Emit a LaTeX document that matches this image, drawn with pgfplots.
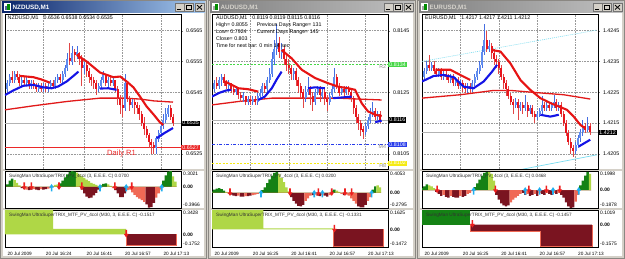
\documentclass[border=0pt]{standalone}
\usepackage{pgfplots}
\pgfplotsset{compat=1.18}
\usepackage{pgfplotstable}
\usepackage{fontspec}
\setmainfont{Liberation Sans}

\definecolor{winbg}{RGB}{212,208,200}
\definecolor{actL}{RGB}{10,36,106}
\definecolor{actR}{RGB}{166,202,240}
\definecolor{inaL}{RGB}{128,128,128}
\definecolor{inaR}{RGB}{192,192,192}
\definecolor{inaT}{RGB}{214,211,204}
\definecolor{bullc}{RGB}{95,140,240}
\definecolor{bullw}{RGB}{70,110,225}
\definecolor{bearc}{RGB}{232,20,28}
\definecolor{bearw}{RGB}{225,70,70}
\definecolor{mablue}{RGB}{20,20,230}
\definecolor{mared}{RGB}{230,20,20}
\definecolor{slowc}{RGB}{225,25,25}
\definecolor{dgc}{RGB}{20,130,20}
\definecolor{lgc}{RGB}{175,215,70}
\definecolor{drc}{RGB}{122,20,32}
\definecolor{lrc}{RGB}{240,105,85}
\definecolor{dnar}{RGB}{238,30,30}
\definecolor{upar}{RGB}{30,175,240}
\definecolor{r1c}{RGB}{235,40,40}
\definecolor{pivg}{RGB}{70,215,70}
\definecolor{pivb}{RGB}{40,60,235}
\definecolor{pivy}{RGB}{245,235,20}
\definecolor{cyl}{RGB}{120,220,240}
\definecolor{txtg}{RGB}{50,50,50}

\newcommand{\lbl}{\fontsize{5.3}{6.9}\selectfont}
\newcommand{\slbl}{\fontsize{4.9}{5.5}\selectfont}
\newcommand{\tlbl}{\fontsize{4.7}{5.5}\selectfont}
\newcommand{\ttl}{\fontsize{6.3}{7}\selectfont\bfseries}

\pgfdeclareplotmark{dnarr}{%
  \pgfpathmoveto{\pgfqpoint{-0.8pt}{4.5pt}}%
  \pgfpathlineto{\pgfqpoint{0.8pt}{4.5pt}}%
  \pgfpathlineto{\pgfqpoint{0.8pt}{0.6pt}}%
  \pgfpathlineto{\pgfqpoint{2.4pt}{0.6pt}}%
  \pgfpathlineto{\pgfqpoint{0pt}{-3pt}}%
  \pgfpathlineto{\pgfqpoint{-2.4pt}{0.6pt}}%
  \pgfpathlineto{\pgfqpoint{-0.8pt}{0.6pt}}%
  \pgfpathclose\pgfusepathqfill}
\pgfdeclareplotmark{uparr}{%
  \pgfpathmoveto{\pgfqpoint{-0.8pt}{-4.5pt}}%
  \pgfpathlineto{\pgfqpoint{0.8pt}{-4.5pt}}%
  \pgfpathlineto{\pgfqpoint{0.8pt}{-0.6pt}}%
  \pgfpathlineto{\pgfqpoint{2.4pt}{-0.6pt}}%
  \pgfpathlineto{\pgfqpoint{0pt}{3pt}}%
  \pgfpathlineto{\pgfqpoint{-2.4pt}{-0.6pt}}%
  \pgfpathlineto{\pgfqpoint{-0.8pt}{-0.6pt}}%
  \pgfpathclose\pgfusepathqfill}

\pgfplotsset{
  mt/.style={scale only axis, anchor=south west, width=176pt,
    axis line style={line width=0.5pt, black}, scaled ticks=false,
    clip mode=individual, tick label style={font=\lbl, text=black}},
  mtmain/.style={mt, ytick pos=right, yticklabel pos=right, tick align=outside,
    major tick length=2pt, xtick style={draw=none}, xticklabels={,,,,},
    xmajorgrids, ymajorgrids,
    major grid style={black!40, dash pattern=on 0.6pt off 1pt, line width=0.35pt},
    yticklabel style={anchor=west, xshift=-0.5pt}},
  mtsub/.style={mt, ytick=\empty, xtick=\empty},
  mtsub2/.style={mt, ytick=\empty, xtick pos=bottom, tick align=outside,
    major tick length=1.5pt, xticklabel style={font=\tlbl, anchor=north west, xshift=-1pt}},
  cndl/.style 2 args={forget plot, draw=none, mark=none,
    error bars/y dir=both, error bars/y explicit, error bars/error mark=none,
    error bars/error bar style={draw=#1, line width=#2}},
}
\tikzset{pbox/.style={anchor=west, inner xsep=1pt, inner ysep=0.7pt, font=\lbl, xshift=0.3pt}}

\newcommand{\candles}[1]{%
\addplot[cndl={bullw}{0.7pt}, x filter/.expression={\thisrow{c}>\thisrow{o} ? x : nan}] table[x=t, y expr={(\thisrow{h}+\thisrow{l})/2}, y error expr={(\thisrow{h}-\thisrow{l})/2}] {#1};
\addplot[cndl={bearw}{0.7pt}, x filter/.expression={\thisrow{c}<\thisrow{o} ? x : nan}] table[x=t, y expr={(\thisrow{h}+\thisrow{l})/2}, y error expr={(\thisrow{h}-\thisrow{l})/2}] {#1};
\addplot[cndl={bullc}{2.1pt}, x filter/.expression={\thisrow{c}>\thisrow{o} ? x : nan}] table[x=t, y expr={(\thisrow{o}+\thisrow{c})/2}, y error expr={abs(\thisrow{c}-\thisrow{o})/2}] {#1};
\addplot[cndl={bearc}{2.1pt}, x filter/.expression={\thisrow{c}<\thisrow{o} ? x : nan}] table[x=t, y expr={(\thisrow{o}+\thisrow{c})/2}, y error expr={abs(\thisrow{c}-\thisrow{o})/2}] {#1};
}
\newcommand{\histo}[1]{%
\addplot[ybar, bar width=1, bar shift=0pt, fill=dgc, draw=none] table[x=t,y=dg]{#1};
\addplot[ybar, bar width=1, bar shift=0pt, fill=lgc, draw=none] table[x=t,y=lg]{#1};
\addplot[ybar, bar width=1, bar shift=0pt, fill=drc, draw=none] table[x=t,y=dr]{#1};
\addplot[ybar, bar width=1, bar shift=0pt, fill=lrc, draw=none] table[x=t,y=lr]{#1};
}
\newcommand{\subscale}[3]{%
\node[anchor=north west, font=\slbl, inner sep=0.5pt, xshift=1.5pt, yshift=-0.5pt] at (rel axis cs:1,1) {#2};
\node[anchor=west, font=\slbl\bfseries, inner sep=0.5pt, xshift=1.5pt] at (axis cs:#1,0) {0.00};
\node[anchor=south west, font=\slbl, inner sep=0.5pt, xshift=1.5pt, yshift=0.5pt] at (rel axis cs:1,0) {#3};
}
\newcommand{\subtitle}[1]{%
\node[anchor=north west, font=\tlbl, text=txtg, inner sep=0pt, xshift=4pt, yshift=-3pt] at (rel axis cs:0,1) {#1};
}
\newcommand{\mtbtns}[1]{%
 \foreach \bx in {#1-30,#1-20.5,#1-10}{\draw[fill=winbg, draw=black!55, line width=0.4pt] (\bx,247.5) rectangle ++(9,8);}
 \draw[line width=0.9pt] (#1-28,249.8) -- ++(4,0);
 \draw[line width=0.4pt] (#1-18.5,249.3) rectangle ++(5,4.6);
 \draw[line width=0.9pt] (#1-18.5,253.6) -- ++(5,0);
 \draw[line width=0.8pt] (#1-8,249.5) -- ++(5,4.4) (#1-8,253.9) -- ++(5,-4.4);
}
\newcommand{\mtwin}[6]{%
 \fill[winbg!65!black] (#1,0) rectangle (#1+#2,259);
 \fill[winbg] (#1+1,1) rectangle (#1+#2-1,258);
 \shade[left color=#3, right color=#4] (#1+2,246) rectangle (#1+#2-2,257);
 \fill[white] (#1+3.5,247.5) rectangle (#1+10.5,255.5);
 \fill[#3!70!white] (#1+4.5,248.5) rectangle (#1+7,253);
 \fill[green!55!black] (#1+7,248.5) rectangle (#1+9.5,254.5);
 \node[anchor=west, inner sep=0pt, text=#5, font=\ttl] at (#1+12.5,251.5) {#6};
 \mtbtns{#1+#2-2}
 \fill[white] (#1+3,3) rectangle (#1+#2-3,245.5);
 \fill[winbg] (#1+3,88) rectangle (#1+#2-3,90);
 \fill[winbg] (#1+3,49) rectangle (#1+#2-3,51);
}

% ---------------- data ----------------
\pgfplotstableread{
t o c h l
9 0.6546 0.6548 0.6549 0.6545
10 0.6548 0.6550 0.6551 0.6547
11 0.6550 0.6549 0.6552 0.6548
12 0.6549 0.6551 0.6552 0.6548
13 0.6551 0.6550 0.6552 0.6549
14 0.6550 0.6548 0.6551 0.6547
15 0.6548 0.6549 0.6550 0.6547
16 0.6549 0.6548 0.6550 0.6547
17 0.6548 0.6549 0.6550 0.6547
18 0.6549 0.6547 0.6549 0.6546
19 0.6547 0.6548 0.6549 0.6546
20 0.6548 0.6547 0.6549 0.6546
21 0.6547 0.6546 0.6548 0.6545
22 0.6546 0.6547 0.6548 0.6545
23 0.6547 0.6546 0.6548 0.6545
24 0.6546 0.6547 0.6548 0.6545
25 0.6547 0.6546 0.6548 0.6545
26 0.6546 0.6547 0.6548 0.6545
27 0.6547 0.6548 0.6549 0.6546
28 0.6548 0.6547 0.6549 0.6546
29 0.6547 0.6549 0.6550 0.6546
30 0.6549 0.6550 0.6551 0.6548
31 0.6550 0.6549 0.6551 0.6548
32 0.6549 0.6551 0.6552 0.6548
33 0.6551 0.6553 0.6554 0.6550
34 0.6553 0.6556 0.6558 0.6552
35 0.6556 0.6555 0.6561 0.6554
36 0.6555 0.6558 0.6560 0.6554
37 0.6558 0.6557 0.6559 0.6555
38 0.6557 0.6558 0.6560 0.6556
39 0.6558 0.6556 0.6558 0.6554
40 0.6556 0.6553 0.6557 0.6547
41 0.6553 0.6554 0.6555 0.6551
42 0.6554 0.6552 0.6555 0.6550
43 0.6552 0.6550 0.6553 0.6548
44 0.6550 0.6549 0.6551 0.6547
45 0.6549 0.6548 0.6550 0.6546
46 0.6548 0.6546 0.6549 0.6544
47 0.6546 0.6547 0.6548 0.6545
48 0.6547 0.6549 0.6550 0.6546
49 0.6549 0.6551 0.6552 0.6548
50 0.6551 0.6548 0.6551 0.6547
51 0.6548 0.6549 0.6550 0.6546
52 0.6549 0.6548 0.6550 0.6547
53 0.6548 0.6549 0.6550 0.6547
54 0.6549 0.6546 0.6549 0.6545
55 0.6546 0.6543 0.6547 0.6541
56 0.6543 0.6541 0.6544 0.6538
57 0.6541 0.6540 0.6543 0.6537
58 0.6540 0.6548 0.6551 0.6539
59 0.6548 0.6543 0.6548 0.6542
60 0.6543 0.6541 0.6544 0.6539
61 0.6541 0.6542 0.6543 0.6540
62 0.6542 0.6541 0.6543 0.6538
63 0.6541 0.6540 0.6542 0.6538
64 0.6540 0.6538 0.6541 0.6536
65 0.6538 0.6535 0.6539 0.6534
66 0.6535 0.6533 0.6537 0.6531
67 0.6533 0.6531 0.6534 0.6530
68 0.6531 0.6529 0.6532 0.6527
69 0.6529 0.6528 0.6530 0.6525
70 0.6528 0.6527 0.6529 0.6525
71 0.6527 0.6530 0.6531 0.6525
72 0.6530 0.6532 0.6533 0.6529
73 0.6532 0.6534 0.6535 0.6531
74 0.6534 0.6536 0.6538 0.6533
75 0.6536 0.6538 0.6540 0.6535
76 0.6538 0.6540 0.6541 0.6537
77 0.6540 0.6537 0.6541 0.6536
78 0.6537 0.6535 0.6538 0.6534
}\nzd

\pgfplotstableread{
t o c h l
10 0.8126 0.8128 0.8129 0.8125
11 0.8128 0.8127 0.8130 0.8126
12 0.8127 0.8129 0.8130 0.8126
13 0.8129 0.8130 0.8131 0.8127
14 0.8130 0.8128 0.8131 0.8127
15 0.8128 0.8127 0.8129 0.8126
16 0.8127 0.8128 0.8129 0.8125
17 0.8128 0.8126 0.8128 0.8125
18 0.8126 0.8125 0.8127 0.8124
19 0.8125 0.8126 0.8127 0.8124
20 0.8126 0.8124 0.8126 0.8123
21 0.8124 0.8123 0.8125 0.8122
22 0.8123 0.8124 0.8125 0.8122
23 0.8124 0.8122 0.8124 0.8121
24 0.8122 0.8123 0.8124 0.8121
25 0.8123 0.8122 0.8124 0.8121
26 0.8122 0.8123 0.8124 0.8121
27 0.8123 0.8122 0.8124 0.8121
28 0.8122 0.8124 0.8125 0.8121
29 0.8124 0.8125 0.8126 0.8123
30 0.8125 0.8127 0.8128 0.8124
31 0.8127 0.8126 0.8128 0.8125
32 0.8126 0.8129 0.8130 0.8125
33 0.8129 0.8131 0.8133 0.8128
34 0.8131 0.8136 0.8138 0.8130
35 0.8136 0.8139 0.8142 0.8134
36 0.8139 0.8141 0.8147 0.8137
37 0.8141 0.8138 0.8143 0.8136
38 0.8138 0.8139 0.8141 0.8136
39 0.8139 0.8136 0.8140 0.8134
40 0.8136 0.8134 0.8137 0.8132
41 0.8134 0.8133 0.8136 0.8131
42 0.8133 0.8131 0.8134 0.8129
43 0.8131 0.8132 0.8133 0.8129
44 0.8132 0.8129 0.8133 0.8127
45 0.8129 0.8127 0.8130 0.8125
46 0.8127 0.8125 0.8128 0.8123
47 0.8125 0.8123 0.8126 0.8120
48 0.8123 0.8125 0.8127 0.8122
49 0.8125 0.8126 0.8130 0.8124
50 0.8126 0.8124 0.8127 0.8121
51 0.8124 0.8122 0.8125 0.8119
52 0.8122 0.8125 0.8126 0.8121
53 0.8125 0.8126 0.8127 0.8124
54 0.8126 0.8124 0.8127 0.8122
55 0.8124 0.8125 0.8126 0.8123
56 0.8125 0.8123 0.8126 0.8121
57 0.8123 0.8122 0.8124 0.8119
58 0.8122 0.8124 0.8125 0.8121
59 0.8124 0.8126 0.8127 0.8123
60 0.8126 0.8130 0.8133 0.8125
61 0.8130 0.8127 0.8131 0.8126
62 0.8127 0.8125 0.8128 0.8124
63 0.8125 0.8126 0.8127 0.8124
64 0.8126 0.8125 0.8127 0.8123
65 0.8125 0.8126 0.8127 0.8124
66 0.8126 0.8125 0.8127 0.8124
67 0.8125 0.8123 0.8126 0.8122
68 0.8123 0.8120 0.8124 0.8118
69 0.8120 0.8117 0.8121 0.8115
70 0.8117 0.8115 0.8118 0.8113
71 0.8115 0.8113 0.8116 0.8111
72 0.8113 0.8112 0.8114 0.8110
73 0.8112 0.8114 0.8115 0.8111
74 0.8114 0.8116 0.8117 0.8113
75 0.8116 0.8118 0.8120 0.8115
76 0.8118 0.8119 0.8122 0.8117
77 0.8119 0.8117 0.8120 0.8116
78 0.8117 0.8118 0.8119 0.8116
79 0.8118 0.8116 0.8119 0.8115
}\aud

\pgfplotstableread{
t o c h l
10 1.4230 1.4232 1.4233 1.4229
11 1.4232 1.4234 1.4235 1.4231
12 1.4234 1.4233 1.4237 1.4232
13 1.4233 1.4234 1.4235 1.4232
14 1.4234 1.4232 1.4235 1.4231
15 1.4232 1.4231 1.4233 1.4230
16 1.4231 1.4232 1.4233 1.4230
17 1.4232 1.4230 1.4233 1.4229
18 1.4230 1.4231 1.4232 1.4229
19 1.4231 1.4230 1.4232 1.4229
20 1.4230 1.4229 1.4231 1.4228
21 1.4229 1.4230 1.4231 1.4228
22 1.4230 1.4228 1.4231 1.4227
23 1.4228 1.4229 1.4230 1.4227
24 1.4229 1.4227 1.4230 1.4226
25 1.4227 1.4228 1.4229 1.4226
26 1.4228 1.4227 1.4229 1.4225
27 1.4227 1.4226 1.4228 1.4225
28 1.4226 1.4227 1.4228 1.4225
29 1.4227 1.4226 1.4228 1.4225
30 1.4226 1.4228 1.4229 1.4225
31 1.4228 1.4230 1.4231 1.4227
32 1.4230 1.4232 1.4233 1.4229
33 1.4232 1.4234 1.4235 1.4231
34 1.4234 1.4238 1.4240 1.4233
35 1.4238 1.4242 1.4247 1.4237
36 1.4242 1.4239 1.4245 1.4238
37 1.4239 1.4240 1.4242 1.4238
38 1.4240 1.4238 1.4241 1.4236
39 1.4238 1.4236 1.4239 1.4234
40 1.4236 1.4235 1.4237 1.4233
41 1.4235 1.4233 1.4236 1.4231
42 1.4233 1.4230 1.4234 1.4229
43 1.4230 1.4228 1.4231 1.4226
44 1.4228 1.4226 1.4229 1.4224
45 1.4226 1.4224 1.4227 1.4223
46 1.4224 1.4222 1.4225 1.4221
47 1.4222 1.4221 1.4223 1.4218
48 1.4221 1.4222 1.4223 1.4220
49 1.4222 1.4220 1.4223 1.4216
50 1.4220 1.4221 1.4222 1.4219
51 1.4221 1.4220 1.4222 1.4218
52 1.4220 1.4221 1.4224 1.4219
53 1.4221 1.4219 1.4222 1.4217
54 1.4219 1.4220 1.4221 1.4218
55 1.4220 1.4218 1.4221 1.4217
56 1.4218 1.4217 1.4219 1.4215
57 1.4217 1.4218 1.4219 1.4216
58 1.4218 1.4219 1.4220 1.4217
59 1.4219 1.4221 1.4224 1.4218
60 1.4221 1.4220 1.4222 1.4219
61 1.4220 1.4221 1.4222 1.4219
62 1.4221 1.4220 1.4222 1.4219
63 1.4220 1.4221 1.4222 1.4219
64 1.4221 1.4222 1.4224 1.4220
65 1.4222 1.4220 1.4223 1.4219
66 1.4220 1.4221 1.4222 1.4219
67 1.4221 1.4218 1.4222 1.4217
68 1.4218 1.4215 1.4219 1.4214
69 1.4215 1.4212 1.4216 1.4211
70 1.4212 1.4209 1.4213 1.4208
71 1.4209 1.4207 1.4210 1.4205
72 1.4207 1.4206 1.4208 1.4204
73 1.4206 1.4208 1.4209 1.4205
74 1.4208 1.4210 1.4211 1.4207
75 1.4210 1.4212 1.4213 1.4209
76 1.4212 1.4214 1.4216 1.4211
77 1.4214 1.4213 1.4215 1.4212
78 1.4213 1.4214 1.4217 1.4212
79 1.4214 1.4212 1.4215 1.4211
}\eur

% oscillator histograms: t, dark green, light green, dark red, light red
\pgfplotstableread{
t dg lg dr lr
9 0.05 0 0 0
10 0.12 0 0 0
11 0.16 0 0 0
12 0 0.13 0 0
13 0 0.08 0 0
14 0 0.03 0 0
15 0 0 -0.02 0
16 0 0 -0.04 0
17 0 0 0 -0.05
18 0 0 -0.06 0
19 0 0 -0.05 0
20 0 0 0 -0.04
21 0 0 -0.05 0
22 0 0 -0.06 0
23 0 0 0 -0.04
24 0 0 -0.05 0
25 0 0 -0.04 0
26 0 0 0 -0.03
27 0 0 0 -0.02
28 0 0.02 0 0
29 0 0.04 0 0
30 0 0.05 0 0
31 0.07 0 0 0
32 0.12 0 0 0
33 0.18 0 0 0
34 0.24 0 0 0
35 0.28 0 0 0
36 0.30 0 0 0
37 0.29 0 0 0
38 0 0.27 0 0
39 0 0.24 0 0
40 0 0.20 -0.05 0
41 0 0.17 -0.12 0
42 0 0.14 -0.18 0
43 0 0.11 -0.21 0
44 0 0.08 -0.20 0
45 0 0.06 -0.16 0
46 0 0.04 -0.11 0
47 0 0.02 -0.05 0
48 0.03 0 0 0
49 0.06 0 0 0
50 0.07 0 0 0
51 0 0.05 0 0
52 0 0.02 0 0
53 0 0 0 -0.02
54 0 0 -0.06 0
55 0 0 -0.12 0
56 0 0 -0.19 0
57 0 0 -0.19 0
58 0 0 -0.12 0
59 0 0 0 -0.06
60 0 0 0 -0.05
61 0 0 0 -0.10
62 0 0 0 -0.15
63 0 0 0 -0.19
64 0 0 0 -0.22
65 0 0 0 -0.25
66 0 0 0 -0.28
67 0 0 -0.33 0
68 0 0 -0.39 0
69 0 0 -0.38 0
70 0 0 -0.30 0
71 0 0 0 -0.20
72 0 0 0 -0.12
73 0 0 0 -0.05
74 0.12 0 0 0
75 0.22 0 0 0
76 0.29 0 0 0
77 0.30 0 0 0
78 0 0.20 0 0
79 0 0.10 0 0
}\nzdosc

\pgfplotstableread{
t dg lg dr lr
9 0.03 0 0 0
10 0.06 0 0 0
11 0.08 0 0 0
12 0.09 0 0 0
13 0.07 0 0 0
14 0.04 0 0 0
15 0 0.02 0 0
16 0 0 0 -0.02
17 0 0 -0.03 0
18 0 0 -0.05 0
19 0 0 -0.06 0
20 0 0 0 -0.05
21 0 0 -0.07 0
22 0 0 -0.07 0
23 0 0 0 -0.06
24 0 0 -0.06 0
25 0 0 -0.05 0
26 0 0 0 -0.04
27 0 0 0 -0.03
28 0 0 0 -0.02
29 0 0.02 0 0
30 0.05 0 0 0
31 0.10 0 0 0
32 0.18 0 0 0
33 0.25 0 0 0
34 0.32 0 0 0
35 0.37 0 0 0
36 0.39 0 0 0
37 0 0.35 0 0
38 0 0.28 0 0
39 0 0.20 0 0
40 0 0.10 0 0
41 0 0.03 0 0
42 0 0 -0.08 0
43 0 0 -0.15 0
44 0 0 -0.20 0
45 0 0 -0.24 0
46 0 0 -0.25 0
47 0 0 -0.22 0
48 0 0 0 -0.15
49 0 0 0 -0.10
50 0 0 0 -0.05
51 0 0 -0.04 0
52 0 0 0 -0.03
53 0 0 -0.05 0
54 0 0 -0.06 0
55 0 0 0 -0.04
56 0 0 -0.05 0
57 0 0 -0.07 0
58 0 0 0 -0.04
59 0.04 0 0 0
60 0.06 0 0 0
61 0 0.04 0 0
62 0 0.02 0 0
63 0 0 0 -0.02
64 0 0 -0.04 0
65 0 0 0 -0.03
66 0 0 0 -0.05
67 0 0 0 -0.10
68 0 0 0 -0.15
69 0 0 0 -0.20
70 0 0 -0.25 0
71 0 0 -0.27 0
72 0 0 -0.27 0
73 0 0 -0.22 0
74 0 0 0 -0.15
75 0 0 0 -0.08
76 0.06 0 0 0
77 0.12 0 0 0
78 0 0.14 0 0
79 0 0.10 0 0
}\audosc

\pgfplotstableread{
t dg lg dr lr
9 0.02 0 0 0
10 0.04 0 0 0
11 0.06 0 0 0
12 0 0.05 0 0
13 0 0.04 0 0
14 0 0.02 0 0
15 0 0 -0.02 0
16 0 0 -0.04 0
17 0 0 -0.06 0
18 0 0 0 -0.05
19 0 0 -0.07 0
20 0 0 -0.08 0
21 0 0 0 -0.06
22 0 0 -0.07 0
23 0 0 -0.08 0
24 0 0 -0.08 0
25 0 0 0 -0.06
26 0 0 -0.07 0
27 0 0 -0.06 0
28 0 0 0 -0.04
29 0 0 0 -0.03
30 0 0 0 -0.01
31 0.03 0 0 0
32 0.07 0 0 0
33 0.11 0 0 0
34 0.15 0 0 0
35 0.18 0 0 0
36 0.19 0 0 0
37 0 0.19 0 0
38 0 0.17 0 0
39 0 0.10 0 0
40 0 0 -0.05 0
41 0 0 -0.10 0
42 0 0 -0.14 0
43 0 0 -0.16 0
44 0 0 -0.17 0
45 0 0 -0.16 0
46 0 0 0 -0.13
47 0 0 0 -0.10
48 0 0 0 -0.08
49 0 0 0 -0.06
50 0 0 0 -0.04
51 0 0 -0.03 0
52 0 0 -0.05 0
53 0 0 0 -0.04
54 0 0 -0.06 0
55 0 0 -0.05 0
56 0 0 0 -0.04
57 0 0 -0.06 0
58 0 0 0 -0.03
59 0 0 -0.04 0
60 0 0 -0.05 0
61 0 0 0 -0.03
62 0 0 -0.04 0
63 0 0 -0.05 0
64 0 0 0 -0.03
65 0 0 -0.04 0
66 0 0 0 -0.03
67 0 0 -0.05 0
68 0 0 -0.08 0
69 0 0 -0.13 0
70 0 0 -0.17 0
71 0 0 -0.19 0
72 0 0 -0.18 0
73 0 0 0 -0.12
74 0 0 0 -0.05
75 0.05 0 0 0
76 0.10 0 0 0
77 0.15 0 0 0
78 0.19 0 0 0
79 0 0.17 0 0
}\eurosc

\begin{document}
\begin{tikzpicture}[x=1pt,y=1pt]
\useasboundingbox (0,0) rectangle (625,259);
\fill[winbg] (0,0) rectangle (625,259);
\mtwin{0}{207}{actL}{actR}{white}{NZDUSD,M1}
\mtwin{208}{208}{inaL}{inaR}{inaT}{AUDUSD,M1}
\mtwin{417}{208}{inaL}{inaR}{inaT}{EURUSD,M1}

% ================= NZDUSD =================
\begin{axis}[mtmain, at={(5pt,90pt)}, height=155pt, xmin=8, xmax=81.33,
  ymin=0.65201, ymax=0.65704, xtick={24,41,57,73},
  ytick={0.6525,0.6535,0.6545,0.6555,0.6565}, yticklabels={0.6525,,0.6545,0.6555,0.6565}]
\addplot[black!30, line width=0.4pt] coordinates {(8,0.6535) (81.33,0.6535)};
\addplot[r1c, line width=0.5pt] coordinates {(8,0.6527) (81.33,0.6527)};
\addplot[slowc, line width=1.3pt] coordinates {(8,0.65393) (19.8,0.65406) (33.7,0.6542) (47.6,0.65431) (57.3,0.65431) (64.25,0.65428) (70,0.65422) (78,0.65418)};
\candles{\nzd}
\addplot[mablue, line width=2.1pt] coordinates {(8,0.65441) (11.5,0.65456) (15.6,0.65471) (19.8,0.65474) (24,0.65466) (27.4,0.65463) (30.2,0.65469) (33.7,0.65485) (36.5,0.65503) (38.6,0.65517)};
\addplot[mablue, line width=2.1pt] coordinates {(47.6,0.65462) (51,0.65463) (54.5,0.65458)};
\addplot[mablue, line width=2.1pt] coordinates {(71.2,0.65301) (74.5,0.65318) (78,0.65334)};
\addplot[mared, line width=2.1pt] coordinates {(14.25,0.65503) (19.8,0.65499) (23,0.65492) (26.75,0.65481)};
\addplot[mared, line width=2.1pt] coordinates {(37.9,0.65571) (42,0.6555) (47.6,0.65514) (53.1,0.65499) (56,0.65501) (58.7,0.65485) (61.5,0.65466) (64.25,0.65436) (67,0.65404) (70,0.65377) (72.6,0.65352) (74,0.65344)};
\node[anchor=north west, font=\lbl, inner sep=0pt, xshift=2.5pt, yshift=-2pt] at (rel axis cs:0,1) {NZDUSD,M1\hspace{5pt}0.6536 0.6538 0.6534 0.6535};
\node[pbox, fill=black, text=white] at (axis cs:81.33,0.6535) {0.6535};
\node[pbox, fill=r1c, text=white] at (axis cs:81.33,0.6527) {0.6527};
\node[anchor=north west, text=r1c, font=\fontsize{7.6}{8}\selectfont, inner sep=0pt, yshift=-2pt] at (axis cs:50.5,0.6527) {Daily R1};
\end{axis}

\begin{axis}[mtsub, at={(5pt,51pt)}, height=37pt, xmin=8, xmax=81.33, ymin=-0.3966, ymax=0.3021]
\histo{\nzdosc}
\addplot[only marks, mark=dnarr, dnar] coordinates {(16,0) (19,0) (30.5,0) (40,0) (53.8,0) (60.8,0)};
\addplot[only marks, mark=uparr, upar] coordinates {(27.4,0) (47.6,0) (58.5,0) (73.3,0)};
\subtitle{SwingMan UltraSuperTRIX\_PV\_4col (3, E.E.E. C) 0.0700}
\subscale{81.33}{0.3021}{-0.3966}
\end{axis}

\begin{axis}[mtsub2, at={(5pt,12pt)}, height=37pt, xmin=8, xmax=81.33, ymin=-0.1752, ymax=0.3428,
  xtick={8,24,41,57,73}, xticklabels={20 Jul 2009,20 Jul 16:24,20 Jul 16:41,20 Jul 16:57,20 Jul 17:13}]
\addplot[fill=lgc, draw=none] coordinates {(8,0) (8,0.3428) (28,0.3428) (28,0.08) (58.5,0.08) (58.5,0)};
\addplot[fill=drc, draw=lrc, line width=0.4pt] coordinates {(58.5,0) (58.5,-0.15) (79.5,-0.15) (79.5,0)};
\addplot[only marks, mark=dnarr, dnar] coordinates {(58.5,0)};
\subtitle{SwingMan UltraSuperTRIX\_MTF\_PV\_4col (M30, 3, E.E.E. C) -0.1517}
\subscale{81.33}{0.3428}{-0.1752}
\end{axis}

% ================= AUDUSD =================
\begin{axis}[mtmain, at={(212pt,90pt)}, height=155pt, xmin=9, xmax=82.33,
  ymin=0.81001, ymax=0.81504, xtick={25,41,57,73},
  ytick={0.8105,0.8115,0.8125,0.8135,0.8145}, yticklabels={0.8105,,0.8125,,0.8145}]
\addplot[black!30, line width=0.4pt] coordinates {(9,0.8116) (82.33,0.8116)};
\addplot[pivg, line width=0.6pt, dash pattern=on 2pt off 1.5pt] coordinates {(9,0.8134) (82.33,0.8134)};
\addplot[pivb, line width=0.6pt, dash pattern=on 3pt off 1.5pt on 1pt off 1.5pt] coordinates {(9,0.8108) (82.33,0.8108)};
\addplot[pivy, line width=0.7pt, dash pattern=on 2pt off 1.5pt] coordinates {(9,0.8102) (82.33,0.8102)};
\addplot[slowc, line width=1.3pt] coordinates {(9,0.81209) (20,0.8122) (34,0.81231) (47.7,0.81231) (61.6,0.81231) (70,0.81228) (79.7,0.81225)};
\candles{\aud}
\addplot[mablue, line width=2.1pt] coordinates {(9,0.81236) (12,0.81248) (15,0.81256) (17,0.81258)};
\addplot[mablue, line width=2.1pt] coordinates {(28.3,0.81225) (31,0.81236) (33.9,0.81263) (36,0.81292) (38,0.81317)};
\addplot[mablue, line width=2.1pt] coordinates {(49,0.81263) (52,0.81266) (56,0.81263)};
\addplot[mablue, line width=2.1pt] coordinates {(59.5,0.81231) (63,0.81233) (67.2,0.81236)};
\addplot[mablue, line width=2.1pt] coordinates {(77,0.81153) (79.7,0.81158)};
\addplot[mared, line width=2.1pt] coordinates {(14.4,0.81285) (17,0.81275) (20,0.81263) (24,0.8126) (28.3,0.81252)};
\addplot[mared, line width=2.1pt] coordinates {(38,0.81387) (42.2,0.8136) (46.4,0.81323) (52,0.81296) (57.5,0.81279) (61.6,0.81268) (65.8,0.81263) (68.6,0.81258) (71.4,0.81214) (74,0.81188) (77,0.81177) (79.7,0.81173)};
\node[anchor=north west, font=\lbl, align=left, inner sep=0pt, xshift=4pt, yshift=-2pt] at (rel axis cs:0,1) {AUDUSD,M1\hspace{5pt}0.8119 0.8119 0.8115 0.8116\\High= 0.8055\\Low= 0.7924\\Close= 0.803\\Time for next bar: 0 min 14 sec};
\node[anchor=north west, font=\lbl, align=left, inner sep=0pt, xshift=44.7pt, yshift=-8.9pt] at (rel axis cs:0,1) {Previous Days Range= 131\\Current Days Range= 145};
\node[anchor=north east, font=\lbl, text=black!45, inner sep=0.5pt] at (axis cs:81.8,0.8134) {R2};
\node[anchor=north east, font=\lbl, text=black!45, inner sep=0.5pt] at (axis cs:81.8,0.8108) {M4};
\node[anchor=north east, font=\lbl, text=black!45, inner sep=0.5pt] at (axis cs:81.8,0.8102) {H8};
\node[pbox, fill=pivg, text=white] at (axis cs:82.33,0.8134) {0.8134};
\node[pbox, fill=black, text=white] at (axis cs:82.33,0.8116) {0.8116};
\node[pbox, fill=pivb, text=white] at (axis cs:82.33,0.8108) {0.8108};
\node[pbox, fill=pivy, text=white] at (axis cs:82.33,0.8102) {0.8102};
\end{axis}

\begin{axis}[mtsub, at={(212pt,51pt)}, height=37pt, xmin=9, xmax=82.33, ymin=-0.2795, ymax=0.4053]
\histo{\audosc}
\addplot[only marks, mark=dnarr, dnar] coordinates {(16.5,0) (41.5,0) (53.3,0) (58.9,0) (64.4,0) (67.2,0)};
\addplot[only marks, mark=uparr, upar] coordinates {(29.4,0) (51.6,0) (55,0) (75.5,0)};
\subtitle{SwingMan UltraSuperTRIX\_PV\_4col (3, E.E.E. C) 0.0200}
\subscale{82.33}{0.4053}{-0.2795}
\end{axis}

\begin{axis}[mtsub2, at={(212pt,12pt)}, height=37pt, xmin=9, xmax=82.33, ymin=-0.1472, ymax=0.1625,
  xtick={9,25,41,57,73}, xticklabels={20 Jul 2009,20 Jul 16:25,20 Jul 16:41,20 Jul 16:57,20 Jul 17:13}]
\addplot[fill=lgc, draw=none] coordinates {(9,0) (9,0.1625) (30.4,0.1625) (30.4,0.008) (59.5,0.008) (59.5,0)};
\addplot[fill=drc, draw=lrc, line width=0.4pt] coordinates {(59.5,0) (59.5,-0.14) (80.4,-0.14) (80.4,0)};
\addplot[only marks, mark=dnarr, dnar] coordinates {(60,0)};
\subtitle{SwingMan UltraSuperTRIX\_MTF\_PV\_4col (M30, 3, E.E.E. C) -0.1331}
\subscale{82.33}{0.1625}{-0.1472}
\end{axis}

% ================= EURUSD =================
\begin{axis}[mtmain, at={(422pt,90pt)}, height=155pt, xmin=9, xmax=82.33,
  ymin=1.42001, ymax=1.42504, xtick={25,41,57,73},
  ytick={1.4205,1.4215,1.4225,1.4235,1.4245}, yticklabels={1.4205,1.4215,1.4225,1.4235,1.4245}]
\addplot[black!30, line width=0.4pt] coordinates {(9,1.4212) (82.33,1.4212)};
\addplot[cyl, line width=0.6pt, dash pattern=on 1pt off 1pt] coordinates {(9,1.4235) (81.9,1.42452)};
\addplot[cyl, line width=0.7pt] coordinates {(50,1.41999) (81.9,1.42047)};
\addplot[slowc, line width=1.3pt] coordinates {(9,1.42231) (25,1.42242) (38.9,1.42256) (45.8,1.42256) (59.7,1.42247) (68,1.42242) (79.1,1.42228)};
\candles{\eur}
\addplot[mablue, line width=2.1pt] coordinates {(9,1.42285) (13.9,1.42303) (18,1.42306) (22.2,1.42299) (26.4,1.42268) (30.5,1.42263) (34.7,1.42285) (38.2,1.42317) (40.25,1.42339)};
\addplot[mablue, line width=2.1pt] coordinates {(58.3,1.42177) (62.5,1.42171) (66,1.42177)};
\addplot[mablue, line width=2.1pt] coordinates {(74.3,1.42074) (79.1,1.42096)};
\addplot[mared, line width=2.1pt] coordinates {(14.6,1.42323) (20.8,1.42323) (25,1.42306) (29.1,1.4229)};
\addplot[mared, line width=2.1pt] coordinates {(38.2,1.42387) (41.7,1.42382) (45.8,1.42344) (50,1.4229) (54.1,1.42258) (58.3,1.42231) (62.5,1.42215) (66,1.42204) (69.4,1.42193) (72.2,1.42171) (75,1.42144) (77,1.42133)};
\node[anchor=north west, font=\lbl, inner sep=0pt, xshift=3pt, yshift=-2pt] at (rel axis cs:0,1) {EURUSD,M1\hspace{5pt}1.4217 1.4217 1.4211 1.4212};
\node[pbox, fill=black, text=white] at (axis cs:82.33,1.4212) {1.4212};
\end{axis}

\begin{axis}[mtsub, at={(422pt,51pt)}, height=37pt, xmin=9, xmax=82.33, ymin=-0.1878, ymax=0.1998]
\histo{\eurosc}
\addplot[only marks, mark=dnarr, dnar] coordinates {(15.3,0) (39.6,0) (53.5,0) (60.8,0) (66.4,0)};
\addplot[only marks, mark=uparr, upar] coordinates {(30.5,0) (52,0) (58,0) (63.6,0) (74.3,0)};
\subtitle{SwingMan UltraSuperTRIX\_PV\_4col (3, E.E.E. C) 0.0468}
\subscale{82.33}{0.1998}{-0.1878}
\end{axis}

\begin{axis}[mtsub2, at={(422pt,12pt)}, height=37pt, xmin=9, xmax=82.33, ymin=-0.1575, ymax=0.1019,
  xtick={9,25,41,57,73}, xticklabels={20 Jul 2009,20 Jul 16:25,20 Jul 16:41,20 Jul 16:57,20 Jul 17:13}]
\addplot[fill=dgc, draw=none] coordinates {(9,0) (9,0.1019) (29.1,0.1019) (29.1,0)};
\addplot[fill=drc, draw=lrc, line width=0.4pt] coordinates {(29.1,0) (29.1,-0.05) (58.4,-0.05) (58.4,-0.155) (79.8,-0.155) (79.8,0)};
\addplot[only marks, mark=dnarr, dnar] coordinates {(30,0)};
\subtitle{SwingMan UltraSuperTRIX\_MTF\_PV\_4col (M30, 3, E.E.E. C) -0.1457}
\subscale{82.33}{0.1019}{-0.1575}
\end{axis}
\end{tikzpicture}
\end{document}
